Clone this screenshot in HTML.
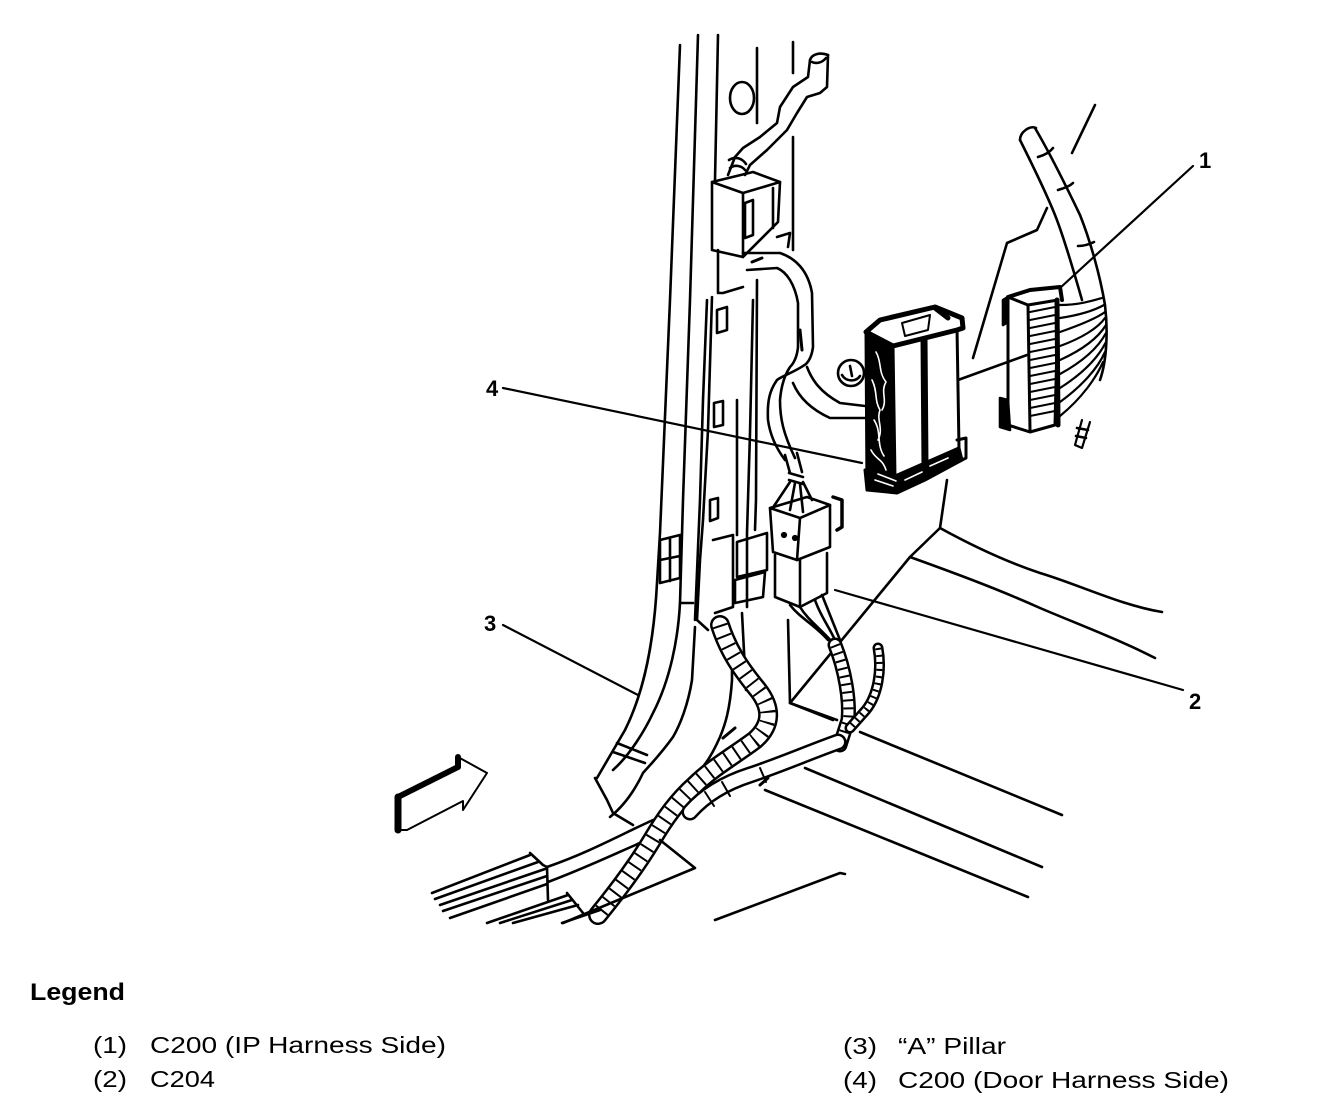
<!DOCTYPE html>
<html><head><meta charset="utf-8"><style>
html,body{margin:0;padding:0;background:#fff;}
svg{display:block;}
text{font-family:"Liberation Sans",Arial,sans-serif;fill:#000;}
</style></head><body>
<svg width="1344" height="1120" viewBox="0 0 1344 1120" xmlns="http://www.w3.org/2000/svg">
<g fill="none" stroke="#000" stroke-width="2.6" stroke-linecap="round" stroke-linejoin="round">

<!-- Pillar vertical lines -->
<path d="M680,45 L670,300 L660,533 L657,583 C654,640 645,690 625,730 L597,778"/>
<path d="M698,35 L690,300 L683,500 L680,603 C678,640 670,680 653,713 C645,730 630,755 613,770"/>
<path d="M680,603 L693,603"/>
<path d="M718,35 L715,180"/>
<path d="M712,297 L708,430 L703,520 L700,560 L697,620 L708,630"/>
<path d="M707,300 L703,400 L700,500 L695,620"/>
<path d="M695,627 L692,680 C688,705 680,725 673,737 C660,755 650,765 643,773 C635,790 625,805 610,817"/>
<path d="M732,660 L732,680 C730,710 725,725 720,737 C712,755 705,765 700,770 C690,785 680,795 673,800"/>
<path d="M595,778 L607,800 L613,813 L633,825"/>
<path d="M617,743 L647,755 M613,752 L645,763"/>
<path d="M753,300 L750,433 L747,533 L747,607"/>
<path d="M757,48 L757,123"/>
<path d="M793,42 L793,73 M793,137 L793,250"/>
<path d="M757,280 L756,500 L755,530"/>
<path d="M737,400 L737,535"/>
<path d="M742,613 L746,690"/>
<path d="M788,620 L790,703 L837,720"/>
<!-- tabs on pillar -->
<path d="M717,310 L727,307 L727,330 L717,333 Z"/>
<path d="M714,403 L723,401 L723,425 L714,427 Z"/>
<path d="M710,500 L718,498 L718,518 L710,521 Z"/>
<path d="M660,540 L680,535 L680,578 L660,583 Z M670,538 L670,581 M660,560 L680,556"/>
<!-- brackets -->
<path d="M713,540 L733,535 L733,607 L715,613"/>
<path d="M737,542 L767,533 L767,570 L737,577 Z"/>
<path d="M735,580 L765,572 L763,597 L735,603 Z"/>

<!-- hole -->
<ellipse cx="742" cy="98" rx="12" ry="16"/>

<!-- hooked harness top -->
<path d="M810,60 L808,77 L793,87 L780,107 L777,123 L760,137 L743,148 L735,157 L728,175"/>
<path d="M828,55 L827,87 L820,93 L807,97 L797,113 L787,130 L767,150 L750,165 L745,175"/>
<path d="M810,60 C812,54 820,52 828,55 M812,62 C816,64 822,63 826,58"/>
<path d="M730,168 C735,164 742,166 745,170 M729,160 C735,156 742,158 746,164"/>

<!-- top bracket box -->
<path d="M712,182 L753,172 L780,182 L743,193 Z"/>
<path d="M712,182 L712,250 L743,257 L743,193"/>
<path d="M780,182 L778,222 L743,257"/>
<path d="M773,188 L773,228"/>
<path d="M745,203 L753,200 L753,235 L745,238 Z"/>
<path d="M718,250 L718,293 L723,293 L743,287"/>
<path d="M777,237 L790,233 L788,247"/>

<!-- loop harness -->
<path d="M743,253 L780,253 C795,258 808,270 812,293 L813,347 C812,355 810,360 806,364 C795,372 782,376 777,380 C770,390 767,400 768,420 C770,435 776,448 785,460"/>
<path d="M747,270 L777,268 C787,272 795,285 798,303 L798,347 C797,357 794,363 790,367 C784,376 781,388 780,400 C780,418 783,433 795,458"/>
<path d="M752,262 L762,258 M800,330 L802,350" stroke-width="3"/>
<!-- branch to door connector -->
<path d="M807,367 C812,380 820,392 840,403 L865,406"/>
<path d="M793,383 C798,395 808,408 830,418 L866,418"/>
<!-- tube end above C204 -->
<path d="M785,455 L790,473 M797,453 L802,472"/>
<path d="M789,473 L803,477 M789,480 L803,484"/>
<path d="M790,482 L774,506 M795,483 L790,510 M800,484 L803,512 M803,482 L812,500"/>
<!-- grommet -->
<circle cx="851" cy="373" r="13"/>
<path d="M842,375 C846,382 856,382 860,376 M850,366 L852,376"/>

<!-- door connector (4) -->
<!-- left dark side -->
<path d="M866,332 L893,346 L895,478 L867,490 Z" fill="#000" stroke-width="3"/>
<path d="M876,352 C882,362 878,372 886,382 C880,392 888,400 882,410 M872,380 C878,392 874,400 880,410 C876,420 884,428 878,440 M874,420 C882,432 876,444 884,456 M871,450 C876,460 882,458 886,470" stroke="#fff" stroke-width="1.6"/>
<!-- front panel -->
<path d="M893,346 L957,328 L959,448 L895,476" stroke-width="3"/>
<path d="M924,338 L925,466" stroke-width="7"/>
<path d="M957,440 L966,438 L966,458 L958,462" stroke-width="3"/>
<!-- top face -->
<path d="M866,332 L880,320 L935,307 L962,318 L963,328 L957,330 L893,346 Z" fill="#fff" stroke-width="5"/>
<path d="M902,323 L930,315 L928,330 L905,336 Z" fill="#fff" stroke-width="2"/>
<path d="M935,308 L948,318" stroke-width="5"/>
<!-- bottom dark -->
<path d="M865,470 L895,478 L959,448 L962,460 L925,480 L897,493 L867,490 Z" fill="#000" stroke-width="3"/>
<path d="M875,480 L893,486 M878,474 L896,481 M905,480 L922,472 M930,466 L948,458" stroke="#fff" stroke-width="1.6"/>
<!-- line door connector to IP -->
<path d="M958,380 L1027,355"/>

<!-- IP harness tube -->
<path d="M1020,140 C1030,160 1045,190 1055,215 C1063,235 1072,265 1082,300"/>
<path d="M1035,128 C1048,150 1068,190 1080,215 C1090,240 1100,275 1105,305 C1108,330 1107,360 1100,380"/>
<path d="M1020,140 C1020,132 1030,125 1036,128"/>
<path d="M1038,157 C1045,155 1050,152 1053,148 M1058,190 C1065,188 1070,186 1073,183 M1078,246 C1085,246 1090,244 1094,242"/>
<path d="M1095,105 L1072,153"/>
<path d="M1047,208 L1037,230 L1007,243 L973,358"/>
<!-- IP connector (1) -->
<path d="M1008,297 L1030,290 L1060,287 L1062,300" stroke-width="4"/>
<path d="M1008,297 L1008,425 L1030,432 L1055,425 L1058,300 L1028,305 L1008,297" stroke-width="3"/>
<path d="M1028,305 L1030,430" stroke-width="3"/>
<path d="M1057,300 L1058,425" stroke-width="5"/>
<path d="M1030,312 L1055,307 M1030,320 L1055,315 M1030,328 L1055,323 M1030,336 L1055,331 M1030,344 L1055,339 M1030,352 L1055,347 M1030,360 L1055,355 M1030,368 L1055,363 M1030,376 L1055,371 M1030,384 L1055,379 M1030,392 L1055,387 M1030,400 L1055,395 M1030,408 L1055,403 M1030,416 L1055,411" stroke-width="2"/>
<path d="M1003,300 L1008,297 L1008,322 L1003,325 Z M1000,398 L1008,400 L1010,430 L1000,427 Z" fill="#000"/>
<path d="M1060,305 C1080,305 1095,300 1102,298 M1060,318 C1080,315 1095,310 1104,305 M1060,332 C1080,325 1097,318 1105,312 M1060,346 C1082,338 1098,328 1105,318 M1060,360 C1082,350 1098,338 1106,325 M1060,374 C1082,362 1098,348 1106,333 M1060,388 C1082,374 1098,358 1106,342 M1060,402 C1082,386 1098,368 1105,352 M1060,416 C1082,398 1096,378 1103,362" stroke-width="2.2"/>
<!-- tail -->
<path d="M1082,420 L1075,445 L1082,448 L1090,422" stroke-width="2.2"/>
<path d="M1077,428 L1088,430 M1076,436 L1086,438"/>
<!-- leader 1 -->
<path d="M1193,166 L1060,288" stroke-width="2.2"/>

<!-- leader 4 -->
<path d="M503,388 L862,463" stroke-width="2.2"/>

<!-- C204 connector -->
<path d="M770,508 L807,497 L830,505 L800,518 Z"/>
<path d="M770,508 L773,552 L797,560 L800,518"/>
<path d="M830,505 L830,547 L797,560"/>
<path d="M775,555 L775,597 L800,607 L827,593 L827,553"/>
<path d="M800,560 L800,607"/>
<path d="M833,497 L842,500 L842,527 L837,530" stroke-width="3.5"/>
<circle cx="784" cy="535" r="1.8" fill="#000"/><circle cx="795" cy="538" r="1.8" fill="#000"/>
<!-- wires below C204 -->
<path d="M790,605 C800,618 815,625 828,640 M800,607 C808,620 820,628 832,642 M815,600 C820,615 828,625 835,640 M822,595 L840,640"/>
<!-- leader 2 -->
<path d="M835,590 L1183,690" stroke-width="2.2"/>

<!-- floor lines right -->
<path d="M947,480 L940,528 L910,557 L790,703"/>
<path d="M940,528 C980,550 1010,563 1040,573 C1080,585 1120,605 1162,612"/>
<path d="M910,557 C960,575 1000,590 1040,608 C1080,625 1120,640 1155,658"/>
<path d="M790,703 L833,720"/>
<path d="M860,732 L1062,815"/>
<path d="M805,768 L1042,867"/>
<path d="M765,790 L1028,897"/>
<path d="M715,920 L840,873 L845,874"/>

<!-- big tube to lower-left connector (drawn under spiral) -->
<path d="M653,820 C620,835 590,852 547,867"/>
<path d="M640,843 C610,856 585,868 548,882"/>

<!-- left spiral harness (main) -->
<path d="M720,625 C728,650 740,668 758,690 C772,708 772,725 755,740 C735,755 712,768 695,785 C678,800 665,818 652,840 C640,860 620,888 598,915" stroke="#000" stroke-width="20"/>
<path d="M720,625 C728,650 740,668 758,690 C772,708 772,725 755,740 C735,755 712,768 695,785 C678,800 665,818 652,840 C640,860 620,888 598,915" stroke="#fff" stroke-width="15"/>
<path d="M720,625 C728,650 740,668 758,690 C772,708 772,725 755,740 C735,755 712,768 695,785 C678,800 665,818 652,840 C640,860 620,888 598,915" stroke="#000" stroke-width="15" stroke-dasharray="2 9" stroke-linecap="butt"/>
<!-- right spiral -->
<path d="M835,645 C845,670 850,700 848,720 L840,745" stroke="#000" stroke-width="15"/>
<path d="M835,645 C845,670 850,700 848,720 L840,745" stroke="#fff" stroke-width="10"/>
<path d="M835,645 C845,670 850,700 848,720 L840,745" stroke="#000" stroke-width="10" stroke-dasharray="2 6" stroke-linecap="butt"/>
<path d="M878,648 C882,670 878,695 866,710 L850,728" stroke="#000" stroke-width="11"/>
<path d="M878,648 C882,670 878,695 866,710 L850,728" stroke="#fff" stroke-width="6"/>
<path d="M878,648 C882,670 878,695 866,710 L850,728" stroke="#000" stroke-width="6" stroke-dasharray="2 5" stroke-linecap="butt"/>
<!-- tube from right spiral to main -->
<path d="M838,742 C810,752 780,765 750,775 C725,783 705,795 690,812" stroke="#000" stroke-width="17"/>
<path d="M838,742 C810,752 780,765 750,775 C725,783 705,795 690,812" stroke="#fff" stroke-width="12"/>
<path d="M760,768 L766,782 M722,782 L730,796 M705,792 L714,806" stroke-width="2"/>
<!-- lower left connector block -->
<path d="M530,853 L543,865 L547,867 L548,900"/>
<path d="M432,893 L530,855 M435,899 L538,862 M440,905 L545,869 M443,911 L547,876 M450,918 L547,884"/>
<path d="M487,923 L568,895 M500,923 L572,900 M513,923 L578,905 M562,923 L600,910"/>
<path d="M567,893 L583,913"/>
<!-- wedge -->
<path d="M660,840 L695,868 L563,923"/>
<!-- small clip near floor -->
<path d="M723,738 L735,728 M760,785 L768,778" stroke-width="3"/>

<!-- leader 3 -->
<path d="M503,625 L638,695" stroke-width="2.2"/>

<!-- arrow -->
<path d="M398,797 L458,767 L458,757 L487,773 L463,810 L463,801 L407,830 L398,830 Z" stroke-width="2"/>
<path d="M398,797 L458,767 L458,757" stroke-width="6"/>
<path d="M398,797 L398,830" stroke-width="7"/>
</g>

<!-- callout labels -->
<text x="486" y="396" font-size="22" font-weight="bold">4</text>
<text x="1199" y="168" font-size="22" font-weight="bold">1</text>
<text x="1189" y="709" font-size="22" font-weight="bold">2</text>
<text x="484" y="631" font-size="22" font-weight="bold">3</text>

<!-- legend -->
<text x="30" y="1000" font-size="24" font-weight="bold" textLength="95" lengthAdjust="spacingAndGlyphs">Legend</text>
<text x="93" y="1053" font-size="23" textLength="34" lengthAdjust="spacingAndGlyphs">(1)</text>
<text x="150" y="1053" font-size="23" textLength="296" lengthAdjust="spacingAndGlyphs">C200 (IP Harness Side)</text>
<text x="93" y="1087" font-size="23" textLength="34" lengthAdjust="spacingAndGlyphs">(2)</text>
<text x="150" y="1087" font-size="23" textLength="65" lengthAdjust="spacingAndGlyphs">C204</text>
<text x="843" y="1054" font-size="23" textLength="34" lengthAdjust="spacingAndGlyphs">(3)</text>
<text x="898" y="1054" font-size="23" textLength="108" lengthAdjust="spacingAndGlyphs">“A” Pillar</text>
<text x="843" y="1088" font-size="23" textLength="34" lengthAdjust="spacingAndGlyphs">(4)</text>
<text x="898" y="1088" font-size="23" textLength="331" lengthAdjust="spacingAndGlyphs">C200 (Door Harness Side)</text>
</svg>
</body></html>
